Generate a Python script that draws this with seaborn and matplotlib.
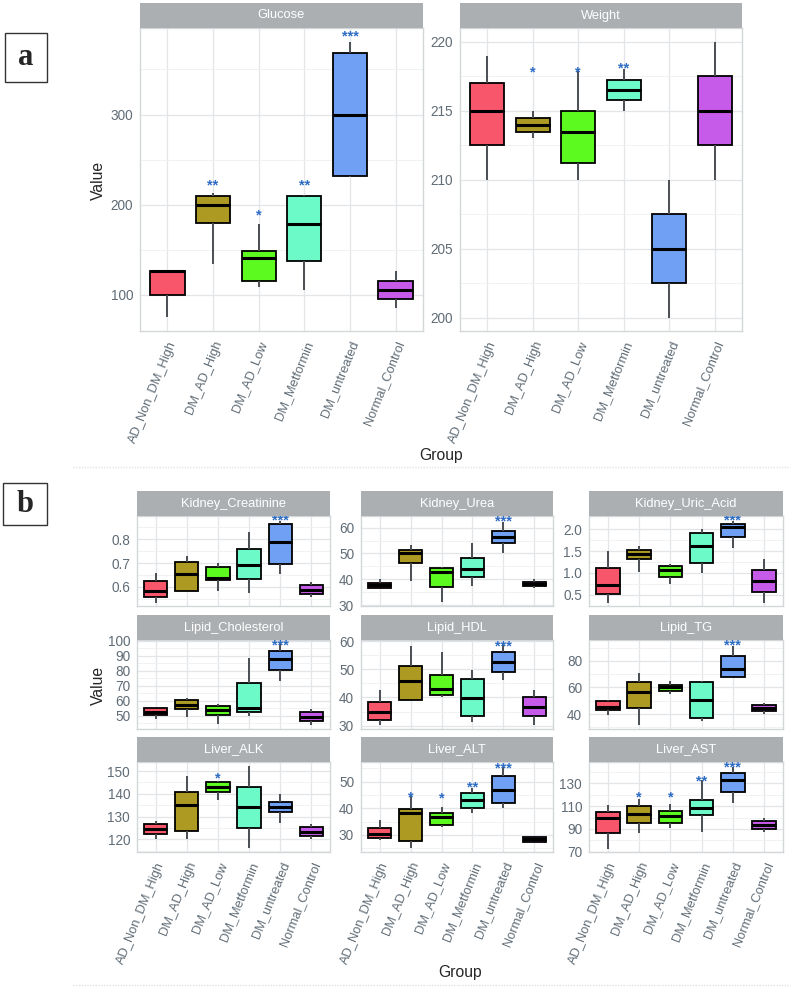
import matplotlib
matplotlib.use("Agg")
import matplotlib.pyplot as plt
import pandas as pd
import seaborn as sns
from matplotlib.lines import Line2D
from matplotlib.patches import Rectangle

groups = ["AD_Non_DM_High", "DM_AD_High", "DM_AD_Low",
          "DM_Metformin", "DM_untreated", "Normal_Control"]
palette = ["#F8576B", "#AD9A22", "#5DFA20", "#6DFAC9", "#70A0F3", "#C65BEA"]

# five-number summaries: (min, q1, median, q3, max)
glucose = [(75, 100, 126, 126, 126), (134, 180, 200, 210, 213), (109, 115, 141, 149, 179),
           (106, 138, 179, 210, 211), (231, 232, 299, 368, 380), (85, 96, 106, 116, 126)]
weight = [(210, 212.5, 215, 217, 219), (213, 213.5, 214, 214.5, 215), (210, 211.2, 213.5, 215, 218),
          (215, 215.75, 216.5, 217.25, 218), (200, 202.5, 205, 207.5, 210), (210, 212.5, 215, 217.5, 220)]
creatinine = [(0.532, 0.558, 0.583, 0.623, 0.66), (0.583, 0.583, 0.652, 0.703, 0.73),
              (0.583, 0.628, 0.638, 0.685, 0.70), (0.575, 0.632, 0.69, 0.76, 0.83),
              (0.653, 0.697, 0.787, 0.866, 0.877), (0.555, 0.569, 0.586, 0.607, 0.618)]
urea = [(36.5, 36.6, 38.0, 38.7, 40.3), (39.4, 46.2, 50.1, 51.4, 53.2), (31.3, 37.2, 42.8, 44.3, 44.9),
        (37.4, 41.0, 44.1, 48.4, 54.2), (50.3, 54.2, 56.4, 58.8, 62.3), (36.5, 37.3, 38.2, 39.1, 40.0)]
uric_acid = [(0.32, 0.51, 0.72, 1.11, 1.51), (1.02, 1.32, 1.43, 1.52, 1.62), (0.74, 0.91, 1.06, 1.16, 1.2),
             (1.01, 1.24, 1.62, 1.93, 2.0), (1.58, 1.83, 2.06, 2.13, 2.19), (0.32, 0.56, 0.82, 1.06, 1.32)]
cholesterol = [(47.8, 50.7, 52.2, 54.9, 55.3), (48.9, 54.4, 57.3, 60.4, 62.0), (44.4, 50.4, 53.6, 56.7, 58.0),
               (49.6, 52.2, 55.1, 71.7, 88.4), (73.0, 80.7, 87.8, 92.9, 99.0), (44.0, 46.2, 49.1, 52.2, 54.4)]
hdl = [(30.3, 32.1, 34.7, 38.5, 42.6), (39.1, 39.1, 45.9, 51.2, 58.1), (40.3, 40.9, 43.1, 47.9, 56.1),
       (31.3, 33.3, 39.7, 46.4, 49.9), (46.2, 49.1, 52.7, 56.1, 59.1), (30.3, 33.3, 36.6, 40.0, 42.6)]
tg = [(39.5, 43.25, 45.25, 49.5, 50.75), (31.5, 44.5, 56.25, 64.0, 70.75), (55.25, 57.5, 60.0, 62.0, 65.25),
      (34.5, 37.0, 50.75, 64.5, 65.25), (67.75, 67.75, 74.25, 83.75, 91.25), (40.0, 42.0, 44.5, 46.5, 48.25)]
alk = [(120.0, 122.2, 124.4, 126.6, 128.2), (120.0, 123.8, 135.0, 140.9, 148.0), (137.1, 140.7, 143.0, 145.0, 145.6),
       (116.0, 124.9, 134.0, 143.0, 152.2), (127.1, 132.2, 134.4, 136.3, 139.9), (120.1, 121.6, 123.4, 125.3, 126.6)]
alt = [(28.1, 29.0, 30.25, 32.75, 35.6), (25.0, 27.9, 38.1, 39.75, 44.5), (33.1, 33.75, 36.6, 38.1, 40.6),
       (38.1, 40.0, 43.1, 45.9, 47.75), (40.0, 41.9, 46.9, 52.1, 55.6), (27.2, 27.5, 28.4, 29.1, 29.3)]
ast = [(72.7, 86.5, 99.7, 105.0, 110.9), (86.0, 94.8, 103.0, 110.0, 116.2), (91.2, 95.6, 101.2, 105.9, 111.8),
       (87.4, 102.1, 108.0, 115.3, 132.9), (112.9, 122.0, 133.0, 138.8, 144.6), (87.4, 89.5, 93.3, 96.8, 99.2)]

# significance labels and the value they sit at
glucose_stars = (["", "**", "*", "**", "***", ""], [0, 225, 192, 225, 390, 0])
weight_stars = (["", "*", "*", "**", "", ""], [0, 218, 218, 218.3, 0, 0])
creatinine_stars = (["", "", "", "", "***", ""], [0, 0, 0, 0, 0.89, 0])
urea_stars = (["", "", "", "", "***", ""], [0, 0, 0, 0, 63.5, 0])
uric_stars = (["", "", "", "", "***", ""], [0, 0, 0, 0, 2.27, 0])
chol_stars = (["", "", "", "", "***", ""], [0, 0, 0, 0, 99.1, 0])
hdl_stars = (["", "", "", "", "***", ""], [0, 0, 0, 0, 59.3, 0])
tg_stars = (["", "", "", "", "***", ""], [0, 0, 0, 0, 93.7, 0])
alk_stars = (["", "", "*", "", "", ""], [0, 0, 148.3, 0, 0, 0])
alt_stars = (["", "*", "*", "**", "***", ""], [0, 45.4, 45.0, 49.1, 56.2, 0])
ast_stars = (["", "*", "*", "**", "***", ""], [0, 120, 120, 134.4, 147, 0])

W, H = 797, 992
TICK_COLOR = "#606C76"
STRIP_COLOR = "#ABAFB2"
STAR_COLOR = "#2C6CC4"

sns.set_style("white")
plt.rcParams["font.family"] = ["Liberation Sans", "DejaVu Sans"]


def px_axes(fig, x0, y0, x1, y1):
    return fig.add_axes([x0 / W, 1 - y1 / H, (x1 - x0) / W, (y1 - y0) / H])


def draw_panel(fig, box, strip_h, title, summary, stars, ylim, yticks, yminor, show_x):
    x0, y0, x1, y1 = box
    ax = px_axes(fig, x0, y0, x1, y1)
    df = pd.DataFrame([(g, v) for g, stats in zip(groups, summary) for v in stats],
                      columns=["Group", "Value"])
    sns.boxplot(data=df, x="Group", y="Value", hue="Group", order=groups, hue_order=groups,
                palette=palette, saturation=1, whis=(0, 100), width=0.75,
                linecolor="black", linewidth=1.3, showcaps=False,
                medianprops=dict(color="black", linewidth=2.2),
                whiskerprops=dict(color="#4A4D52", linewidth=1.4),
                legend=False, ax=ax)
    for i, (s, y) in enumerate(zip(*stars)):
        if s:
            # asterisks sit high in the glyph box, so pull them down a little
            ax.annotate(s, (i, y), xytext=(0, -2.2), textcoords="offset points",
                        ha="center", va="center", color=STAR_COLOR,
                        fontsize=10.5, fontweight="bold", zorder=5)
    ax.set_xlim(-0.6, 5.6)
    ax.set_ylim(*ylim)
    ax.set_yticks(yticks)
    ax.set_yticks(yminor, minor=True)
    ax.grid(True, which="major", color="#E2E6E9", linewidth=0.9)
    ax.grid(True, which="minor", axis="y", color="#EEF0F2", linewidth=0.6)
    ax.set_axisbelow(True)
    for sp in ax.spines.values():
        sp.set_color("#D3D7DA")
        sp.set_linewidth(1.0)
    ax.set_xlabel("")
    ax.set_ylabel("")
    ax.tick_params(axis="y", which="major", length=3, width=0.8, color="#B8BEC3",
                   labelsize=9.8, labelcolor=TICK_COLOR, pad=2)
    ax.tick_params(axis="y", which="minor", length=0)
    if show_x:
        ax.set_xticks(range(len(groups)))
        ax.set_xticklabels(groups, rotation=68, ha="right", rotation_mode="anchor",
                           fontsize=9.3, color=TICK_COLOR)
        ax.tick_params(axis="x", length=3, width=0.8, color="#B8BEC3", pad=3)
    else:
        ax.tick_params(axis="x", length=0, labelbottom=False)

    sax = px_axes(fig, x0, y0 - strip_h, x1, y0)
    sax.set_facecolor(STRIP_COLOR)
    sax.set_xticks([])
    sax.set_yticks([])
    for sp in sax.spines.values():
        sp.set_visible(False)
    sax.text(0.5, 0.5, title, ha="center", va="center", color="white", fontsize=9.3,
             transform=sax.transAxes)
    return ax


def panel_tag(fig, x0, y0, x1, y1, letter):
    fig.add_artist(Rectangle((x0 / W, 1 - y1 / H), (x1 - x0) / W, (y1 - y0) / H,
                             transform=fig.transFigure, facecolor="white",
                             edgecolor="#333333", linewidth=1.0))
    fig.text((x0 + x1) / 2 / W, 1 - (y0 + y1) / 2 / H, letter, ha="center", va="center",
             fontsize=22, fontweight="bold", family="Liberation Serif")


fig = plt.figure(figsize=(W / 100, H / 100), dpi=100)

# panel a
draw_panel(fig, (140, 28, 423, 331), 25, "Glucose", glucose, glucose_stars,
           (60, 396), [100, 200, 300], [150, 250, 350], True)
draw_panel(fig, (460, 28, 742, 331), 25, "Weight", weight, weight_stars,
           (199.05, 221), [200, 205, 210, 215, 220], [202.5, 207.5, 212.5, 217.5], True)
fig.text(98 / W, 1 - 180 / H, "Value", rotation=90, ha="center", va="center", fontsize=11.3)
fig.text(441 / W, 1 - 455 / H, "Group", ha="center", va="center", fontsize=11.3)
panel_tag(fig, 5, 33, 47, 82, "a")

# panel b
cols = [(137, 330), (361, 553), (589, 783)]
rows = [(516, 606), (640, 729), (762, 852)]
b_panels = [
    ("Kidney_Creatinine", creatinine, creatinine_stars, (0.519, 0.898), [0.6, 0.7, 0.8], [0.55, 0.65, 0.75, 0.85]),
    ("Kidney_Urea", urea, urea_stars, (29.7, 64.5), [30, 40, 50, 60], [35, 45, 55]),
    ("Kidney_Uric_Acid", uric_acid, uric_stars, (0.24, 2.31), [0.5, 1.0, 1.5, 2.0], [0.75, 1.25, 1.75]),
    ("Lipid_Cholesterol", cholesterol, chol_stars, (41.1, 100.4), [50, 60, 70, 80, 90, 100], [45, 55, 65, 75, 85, 95]),
    ("Lipid_HDL", hdl, hdl_stars, (28.8, 60.4), [30, 40, 50, 60], [35, 45, 55]),
    ("Lipid_TG", tg, tg_stars, (28.75, 95.75), [40, 60, 80], [30, 50, 70, 90]),
    ("Liver_ALK", alk, alk_stars, (114.4, 154), [120, 130, 140, 150], [115, 125, 135, 145]),
    ("Liver_ALT", alt, alt_stars, (23.6, 57.4), [30, 40, 50], [25, 35, 45, 55]),
    ("Liver_AST", ast, ast_stars, (69.7, 148.8), [70, 90, 110, 130], [80, 100, 120, 140]),
]
for k, (title, summary, stars, ylim, yt, ym) in enumerate(b_panels):
    r, c = divmod(k, 3)
    draw_panel(fig, (cols[c][0], rows[r][0], cols[c][1], rows[r][1]), 25, title, summary,
               stars, ylim, yt, ym, r == 2)
fig.text(98 / W, 1 - 685 / H, "Value", rotation=90, ha="center", va="center", fontsize=11.3)
fig.text(460 / W, 1 - 973 / H, "Group", ha="center", va="center", fontsize=11.3)
panel_tag(fig, 3, 483, 47, 525, "b")

# faint separators between the two parts
for y in (467, 985):
    fig.add_artist(Line2D([73 / W, 790 / W], [1 - y / H, 1 - y / H], transform=fig.transFigure,
                          color="#E2E4E6", linewidth=1.0, linestyle=(0, (1, 1))))

fig.savefig("out.png", dpi=100)
plt.close(fig)
